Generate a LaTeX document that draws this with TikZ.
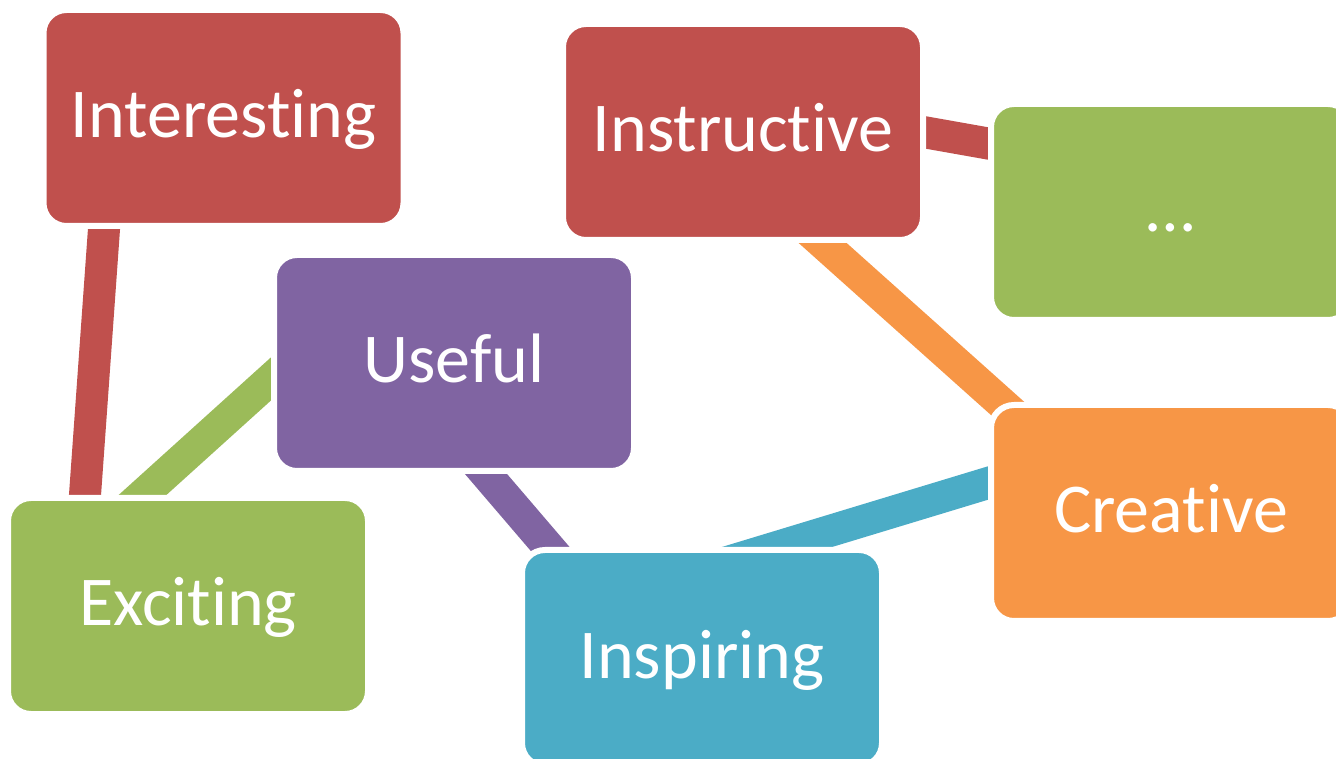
\documentclass[tikz,border=0pt]{standalone}
\usepackage{fontspec}
\setmainfont{Carlito}[Ligatures={NoCommon,NoContextual}]
\definecolor{cred}{HTML}{C0504D}
\definecolor{cgreen}{HTML}{9BBB59}
\definecolor{cpurple}{HTML}{8064A2}
\definecolor{cblue}{HTML}{4BACC6}
\definecolor{corange}{HTML}{F79646}
\pgfdeclarelayer{back}
\pgfdeclarelayer{bars}
\pgfsetlayers{back,bars,main}
\tikzset{
  boxnode/.style={rectangle, rounded corners=23pt, minimum width=360pt, minimum height=216pt,
    inner sep=0pt, outer sep=0pt, draw=white, line width=6pt, fill=#1, text=white,
    font=\fontsize{70}{84}\selectfont, text height=45pt, text depth=5pt},
  connbar/.style={draw=#1, line width=32pt, line cap=butt, shorten <=-70pt, shorten >=-70pt}
}
\begin{document}
\begin{tikzpicture}[x=1pt,y=1pt]
\useasboundingbox (0,0) rectangle (1336,758);
\begin{pgfonlayer}{back}
\fill[white] (0,0) rectangle (1336,758);
\end{pgfonlayer}
\begin{scope}
\clip (0,0) rectangle (1336,758);
\node[boxnode=cred]    (interesting) at (223.5,640) {Interesting};
\node[boxnode=cred]    (instructive) at (743,626)   {Instructive};
\node[boxnode=cgreen]  (more)        at (1171,546)  {…};
\node[boxnode=cpurple] (useful)      at (454,395)   {Useful};
\node[boxnode=cgreen]  (exciting)    at (188,152)   {Exciting};
\node[boxnode=cblue]   (inspiring)   at (702,100)   {Inspiring};
\node[boxnode=corange] (creative)    at (1171,245)  {Creative};
\end{scope}
\begin{pgfonlayer}{bars}
\draw[connbar=cred]    ([shift={(-119.5,-111)}]interesting.center) -- ([shift={(-103,111)}]exciting.center);
\draw[connbar=cgreen]  ([shift={(-182,-15)}]useful.center) -- ([shift={(-45.5,111)}]exciting.center);
\draw[connbar=cpurple] ([shift={(32,-111)}]useful.center) -- ([shift={(-153.5,111)}]inspiring.center);
\draw[connbar=cred]    ([shift={(183,-0.5)}]instructive.center) -- ([shift={(-183,68.5)}]more.center);
\draw[connbar=corange] ([shift={(78.5,-110)}]instructive.center) -- ([shift={(-169.5,110)}]creative.center);
\draw[connbar=cblue]   ([shift={(75,111)}]inspiring.center) -- ([shift={(-183,30)}]creative.center);
\end{pgfonlayer}
\end{tikzpicture}
\end{document}
